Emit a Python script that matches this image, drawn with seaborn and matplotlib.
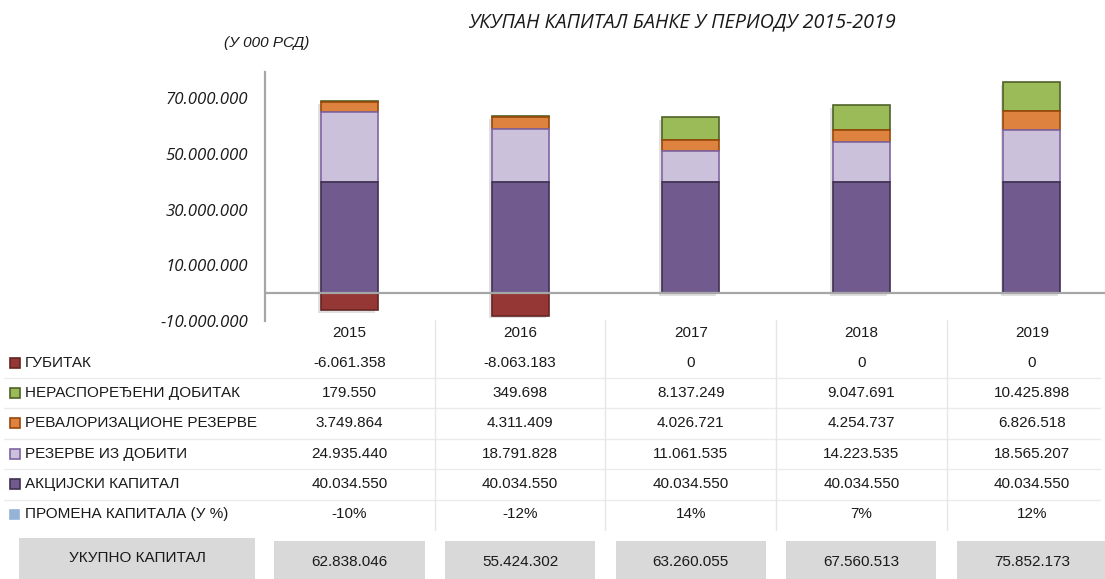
import numpy as np
import pandas as pd
import matplotlib
matplotlib.use('Agg')
import matplotlib.pyplot as plt
import matplotlib.patheffects as pe
from matplotlib import font_manager
from matplotlib.patches import Rectangle
from matplotlib.transforms import blended_transform_factory
import seaborn as sns

years = ['2015', '2016', '2017', '2018', '2019']
gubitak = [-6061358, -8063183, 0, 0, 0]
nerasporedjeni = [179550, 349698, 8137249, 9047691, 10425898]
revalorizacione = [3749864, 4311409, 4026721, 4254737, 6826518]
rezerve = [24935440, 18791828, 11061535, 14223535, 18565207]
akcijski = [40034550, 40034550, 40034550, 40034550, 40034550]
promena = ['-10%', '-12%', '14%', '7%', '12%']
ukupno = [62838046, 55424302, 63260055, 67560513, 75852173]

row_names = ['ГУБИТАК', 'НЕРАСПОРЕЂЕНИ ДОБИТАК', 'РЕВАЛОРИЗАЦИОНЕ РЕЗЕРВЕ',
             'РЕЗЕРВЕ ИЗ ДОБИТИ', 'АКЦИЈСКИ КАПИТАЛ', 'ПРОМЕНА КАПИТАЛА (У %)']
fills = ['#953735', '#9BBB59', '#DE8240', '#CCC1DA', '#705A8E', '#95B3D7']
edges = ['#632523', '#4F6228', '#984807', '#8064A2', '#3F3151', None]

sns.set_style('white')
names = {f.name for f in font_manager.fontManager.ttflist}
if 'Liberation Sans Narrow' in names:
    narrow, tsize = 'Liberation Sans Narrow', 12.5
else:
    narrow, tsize = 'Liberation Sans', 11
plt.rcParams['font.family'] = [narrow, 'DejaVu Sans']

W, H = 1105, 579
fig = plt.figure(figsize=(W / 100, H / 100), dpi=100)
ax = fig.add_axes([265 / W, 1 - 321 / H, (W - 265) / W, 249 / H])

df = pd.DataFrame({'year': years, 'gubitak': gubitak, 'ner': nerasporedjeni,
                   'rev': revalorizacione, 'rez': rezerve, 'akc': akcijski})
b_akc = np.zeros(5)
b_rez = b_akc + np.array(akcijski)
b_rev = b_rez + np.array(rezerve)
b_ner = b_rev + np.array(revalorizacione)

shadow = [pe.SimplePatchShadow(offset=(-2, -2), shadow_rgbFace='#000000', alpha=0.12), pe.Normal()]
# top segments first so lower segments cover the upper shadows
for col, bottom, i in [('ner', b_ner, 1), ('rev', b_rev, 2), ('rez', b_rez, 3),
                       ('akc', b_akc, 4), ('gubitak', np.zeros(5), 0)]:
    sns.barplot(data=df, x='year', y=col, bottom=bottom, color=fills[i], saturation=1,
                edgecolor=edges[i], linewidth=1.2, width=0.334, errorbar=None, ax=ax)
for p in ax.patches:
    if p.get_height() != 0:
        p.set_path_effects(shadow)
    else:
        p.set_visible(False)

ax.axhline(0, color='#A6A6A6', lw=1.6, zorder=5)
ax.set_xlim(-0.495, 4.428)
ax.set_ylim(-10000000, 79400000)
ax.set_yticks([-10000000, 10000000, 30000000, 50000000, 70000000])
ax.set_yticklabels([f'{v:,}'.replace(',', '.') for v in ax.get_yticks().astype(int)],
                   family='Open Sans', style='italic', fontsize=12.2, color='#1a1a1a')
ax.tick_params(axis='y', length=0, pad=12)
ax.set_xticks([])
ax.set_xlabel('')
ax.set_ylabel('')
for s in ['top', 'right', 'bottom']:
    ax.spines[s].set_visible(False)
ax.spines['left'].set_color('#A6A6A6')
ax.spines['left'].set_linewidth(1.6)

fy = lambda py: 1 - py / H
tr = blended_transform_factory(ax.transData, fig.transFigure)

fig.text(682 / W, fy(22), 'УКУПАН КАПИТАЛ БАНКЕ У ПЕРИОДУ 2015-2019', family='Open Sans',
         style='italic', fontsize=14.2, ha='center', va='center', color='#1a1a1a')
fig.text(267 / W, fy(43), '(У 000 РСД)', style='italic', fontsize=tsize,
         ha='center', va='center', color='#1a1a1a')

# data table under the chart
fmt = lambda v: f'{v:,}'.replace(',', '.')
rows = [[fmt(v) for v in gubitak], [fmt(v) for v in nerasporedjeni],
        [fmt(v) for v in revalorizacione], [fmt(v) for v in rezerve],
        [fmt(v) for v in akcijski], promena]
row_y = [362.7, 392.7, 423, 454, 484, 514]
for i, y in enumerate(years):
    fig.text(i, fy(333), y, transform=tr, ha='center', va='center', fontsize=tsize, color='#1a1a1a')
for r, name in enumerate(row_names):
    yc = fy(row_y[r])
    sq = 10 if edges[r] else 9
    fig.patches.append(Rectangle((10 / W, yc - sq / 2 / H), sq / W, sq / H, transform=fig.transFigure,
                                 facecolor=fills[r], edgecolor=edges[r] or fills[r], lw=1.2))
    fig.text(25 / W, yc, name, ha='left', va='center', fontsize=tsize, color='#1a1a1a')
    for i, val in enumerate(rows[r]):
        fig.text(i, yc, val, transform=tr, ha='center', va='center', fontsize=tsize, color='#1a1a1a')
for ly in [378, 408, 439, 469, 500]:
    fig.add_artist(plt.Line2D([4 / W, 1100 / W], [fy(ly), fy(ly)], transform=fig.transFigure,
                              color='#EBEBEB', lw=1))
for sx in [0.5, 1.5, 2.5, 3.5]:
    fig.add_artist(plt.Line2D([sx, sx], [fy(320), fy(530)], transform=tr, color='#E6E6E6', lw=1))

# total row
fig.patches.append(Rectangle((19 / W, 0), 236 / W, fy(538), transform=fig.transFigure,
                             facecolor='#D9D9D9', edgecolor='none'))
fig.text(137 / W, fy(558), 'УКУПНО КАПИТАЛ', ha='center', va='center', fontsize=tsize, color='#1a1a1a')
for i, v in enumerate(ukupno):
    fig.patches.append(Rectangle((i - 0.44, 0), 0.88, fy(541), transform=tr,
                                 facecolor='#D9D9D9', edgecolor='none'))
    fig.text(i, fy(562), fmt(v), transform=tr, ha='center', va='center', fontsize=tsize, color='#1a1a1a')

fig.savefig('out.png', dpi=100)
